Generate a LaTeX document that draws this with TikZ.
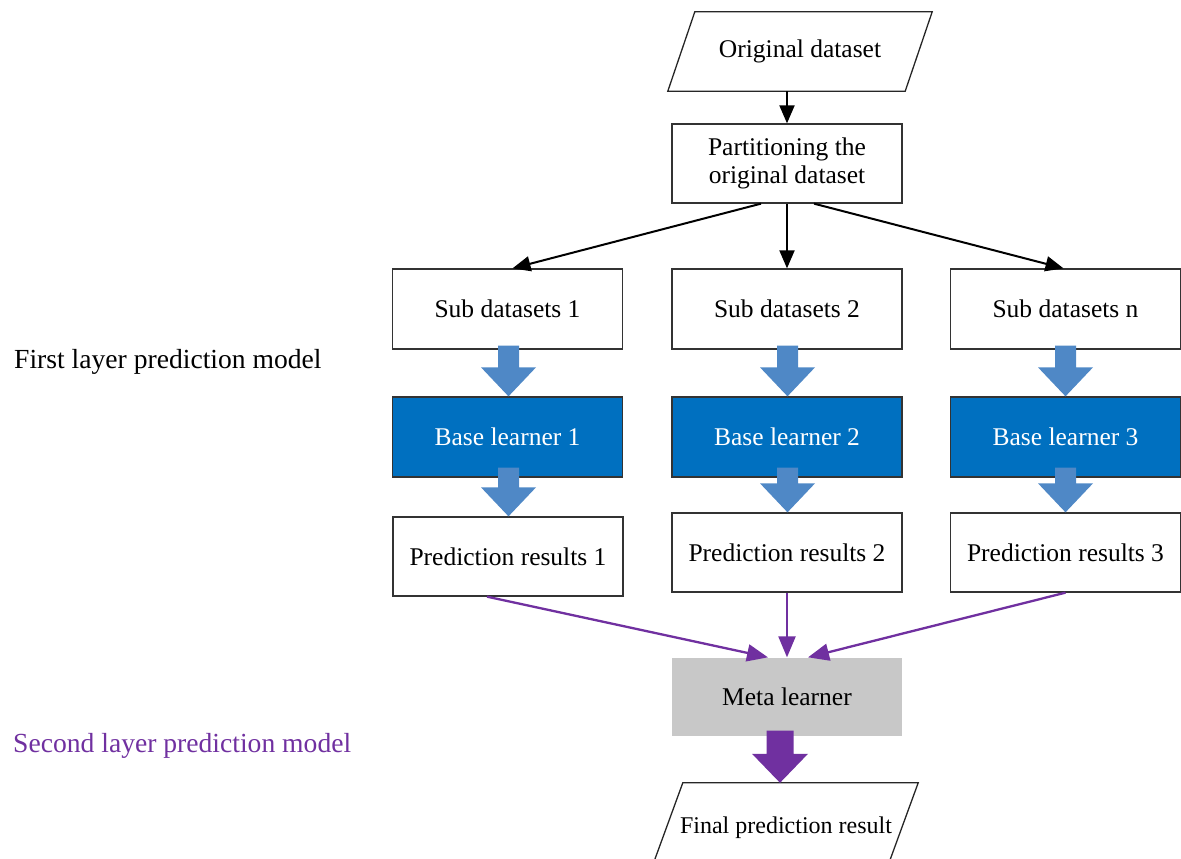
\documentclass[tikz,border=0pt]{standalone}
\usepackage{fontspec}
\setmainfont{Liberation Serif}
\usetikzlibrary{arrows.meta,calc}
\definecolor{baseblue}{HTML}{0070C0}
\definecolor{flowblue}{HTML}{4F88C6}
\definecolor{metapurple}{HTML}{7030A0}
\definecolor{metagray}{HTML}{C8C8C8}

% thick block arrow from the bottom of one node to the top of the next
% #1 upper node, #2 lower node, #3 colour, #4 overlap into upper node,
% #5 half shaft width, #6 half head width, #7 horizontal offset
\newcommand{\fatarrow}[7]{%
  \fill[#3] let \p1=(#1.south), \p2=(#2.north) in
    (\x1+#7pt-#5pt,\y1+#4pt) -- (\x1+#7pt+#5pt,\y1+#4pt) --
    (\x1+#7pt+#5pt,\y2+29pt) -- (\x1+#7pt+#6pt,\y2+29pt) --
    (\x1+#7pt,\y2) --
    (\x1+#7pt-#6pt,\y2+29pt) -- (\x1+#7pt-#5pt,\y2+29pt) -- cycle;}

% slanted outline around a data node (#2 = half of the horizontal slant)
\newcommand{\paraoutline}[2]{%
  \draw[paraline] ([xshift=-#2pt]#1.south west) -- ([xshift=-#2pt]#1.south east) --
    ([xshift=#2pt]#1.north east) -- ([xshift=#2pt]#1.north west) -- cycle;}

\begin{document}
\begin{tikzpicture}[x=1pt,y=-1pt,
  box/.style={draw=black!80, line width=1.3pt, fill=white,
    minimum width=230pt, minimum height=80pt, inner sep=0pt,
    font=\fontsize{25.5}{28}\selectfont, align=center},
  basebox/.style={box, fill=baseblue, text=white},
  metabox/.style={box, draw=none, fill=metagray},
  datanode/.style={rectangle, minimum width=237pt, minimum height=79pt,
    inner sep=0pt, font=\fontsize{25.5}{28}\selectfont},
  paraline/.style={draw=black!85, line width=1.3pt, line join=miter},
  sidelabel/.style={anchor=west, inner sep=0pt, font=\fontsize{27.6}{30}\selectfont},
  blackarrow/.style={line width=2pt, -{Triangle[length=18pt,width=15pt]}},
  purplearrow/.style={draw=metapurple, line width=2.3pt,
    -{Triangle[length=21pt,width=17pt]}}
]
\useasboundingbox (0,0) rectangle (1181,859);
\clip (0,0) rectangle (1181,859);

% side labels
\node[sidelabel] (lab1) at (14,362) {First layer prediction model};
\node[sidelabel, text=metapurple] (lab2) at (13,746) {Second layer prediction model};

% data preparation
\node[datanode] (orig) at (800,51.5) {Original dataset};
\paraoutline{orig}{13.5}
\node[box, minimum height=79pt] (part) at (787,163.5) {Partitioning the\\original dataset};

% first layer
\node[box] (s1) at (507.5,309) {Sub datasets 1};
\node[box] (s2) at (787,309) {Sub datasets 2};
\node[box] (s3) at (1065.5,309) {Sub datasets n};

\node[basebox] (b1) at (507.5,437) {Base learner 1};
\node[basebox] (b2) at (787,437) {Base learner 2};
\node[basebox] (b3) at (1065.5,437) {Base learner 3};

\node[box, minimum height=79pt] (p1) at (508,556.5) {Prediction results 1};
\node[box, minimum height=79pt] (p2) at (787,552.5) {Prediction results 2};
\node[box, minimum height=79pt] (p3) at (1065.5,552.5) {Prediction results 3};

% second layer
\node[metabox, minimum height=78pt] (meta) at (787,697) {Meta learner};
\node[datanode, minimum width=235pt, font=\fontsize{24}{28}\selectfont] (final)
  at (786,822.5) {\smash{\raisebox{-10.5pt}{Final prediction result}}};
\paraoutline{final}{14.5}

% thin connectors
\draw[blackarrow] (orig.south -| part.north) -- (part.north);
\draw[blackarrow] ($(part.south)+(-26,0)$) -- ($(s1.north)+(5,0)$);
\draw[blackarrow] (part.south) -- (s2.north);
\draw[blackarrow] ($(part.south)+(27,0)$) -- ($(s3.north)+(-2,0)$);

\draw[purplearrow] ($(p1.south)+(-21,0)$) -- ($(meta.north)+(-19,0)$);
\draw[purplearrow] (p2.south) -- (meta.north);
\draw[purplearrow] (p3.south) -- ($(meta.north)+(21,0)$);

% block arrows
\fatarrow{s1}{b1}{flowblue}{4}{10.5}{27.5}{1}
\fatarrow{s2}{b2}{flowblue}{4}{10.5}{27.5}{0.5}
\fatarrow{s3}{b3}{flowblue}{4}{10.5}{27.5}{0}
\fatarrow{b1}{p1}{flowblue}{10}{10.5}{27.5}{1}
\fatarrow{b2}{p2}{flowblue}{10}{10.5}{27.5}{0.5}
\fatarrow{b3}{p3}{flowblue}{10}{10.5}{27.5}{0}
\fatarrow{meta}{final}{metapurple}{6}{13.5}{28}{-7}
\end{tikzpicture}
\end{document}
